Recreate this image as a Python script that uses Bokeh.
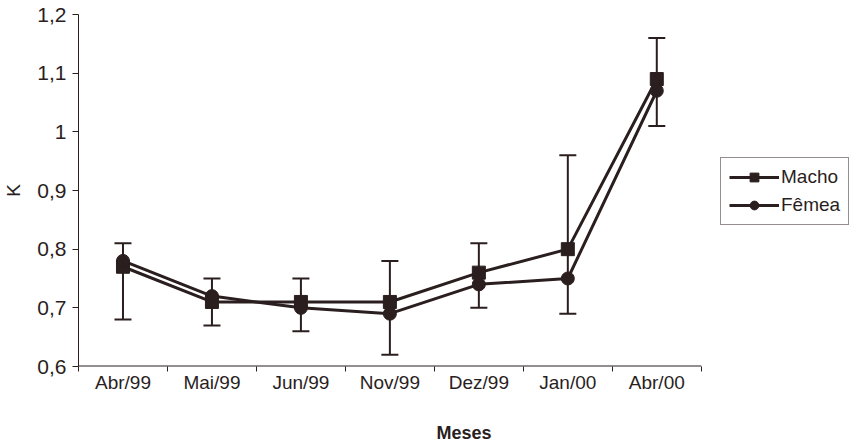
from bokeh.plotting import figure
from bokeh.models import (Range1d, FixedTicker, Whisker, ColumnDataSource,
                          Legend, LegendItem, TeeHead)
from bokeh.embed import file_html
from bokeh.resources import INLINE

months = ["Abr/99", "Mai/99", "Jun/99", "Nov/99", "Dez/99", "Jan/00", "Abr/00"]
macho = [0.77, 0.71, 0.71, 0.71, 0.76, 0.80, 1.09]
femea = [0.78, 0.72, 0.70, 0.69, 0.74, 0.75, 1.07]
err_low = [0.68, 0.67, 0.66, 0.62, 0.70, 0.69, 1.01]
err_high = [0.81, 0.75, 0.75, 0.78, 0.81, 0.96, 1.16]
y_ticks = [0.6, 0.7, 0.8, 0.9, 1.0, 1.1, 1.2]
y_tick_labels = ["0,6", "0,7", "0,8", "0,9", "1", "1,1", "1,2"]

INK = "#2a1e1e"
FONT = "Liberation Sans"

W, H = 849, 445
LEFT, TOP, BOTTOM = 74, 14, 78
AXIS_W = 626                      # pixel length of the category axis
frame_w = W - LEFT

n = len(months)
xc = [i + 0.5 for i in range(n)]
src = ColumnDataSource(dict(x=xc, macho=macho, femea=femea,
                            low=err_low, high=err_high))

p = figure(width=W, height=H, output_backend="svg", toolbar_location=None,
           x_range=Range1d(0, n * frame_w / AXIS_W),
           y_range=Range1d(y_ticks[0], y_ticks[-1]),
           min_border_left=LEFT, min_border_right=0, min_border_top=TOP,
           min_border_bottom=BOTTOM)
p.outline_line_color = None
p.xgrid.visible = False
p.ygrid.visible = False
p.background_fill_color = "white"
p.border_fill_color = "white"

# y axis
p.yaxis.ticker = FixedTicker(ticks=y_ticks)
p.yaxis.major_label_overrides = {t: l for t, l in zip(y_ticks, y_tick_labels)}
p.yaxis.major_tick_out = 6
p.yaxis.major_tick_in = 0
p.yaxis.minor_tick_out = 0
p.yaxis.minor_tick_in = 0
p.yaxis.major_label_standoff = 6
p.yaxis.major_label_text_font = FONT
p.yaxis.major_label_text_font_size = "21px"
p.yaxis.major_label_text_color = INK
p.yaxis.axis_label = "K"
p.yaxis.axis_label_text_font = FONT
p.yaxis.axis_label_text_font_style = "normal"
p.yaxis.axis_label_text_font_size = "19px"
p.yaxis.axis_label_text_color = INK
p.yaxis.axis_label_standoff = 10
p.yaxis.axis_line_color = INK
p.yaxis.major_tick_line_color = INK

# x axis: labels at category centres, tick marks at category boundaries
p.xaxis.ticker = FixedTicker(ticks=xc, minor_ticks=list(range(n + 1)))
p.xaxis.major_label_overrides = {v: m for v, m in zip(xc, months)}
p.xaxis.major_tick_out = 0
p.xaxis.major_tick_in = 0
p.xaxis.minor_tick_out = 5
p.xaxis.minor_tick_in = 0
p.xaxis.minor_tick_line_color = INK
p.xaxis.axis_line_color = None
p.xaxis.major_label_standoff = 0
p.xaxis.major_label_text_font = FONT
p.xaxis.major_label_text_font_size = "19px"
p.xaxis.major_label_text_color = INK
p.xaxis.axis_label = "Meses"
p.xaxis.axis_label_text_font = FONT
p.xaxis.axis_label_text_font_style = "bold"
p.xaxis.axis_label_text_font_size = "18px"
p.xaxis.axis_label_text_color = INK
p.xaxis.axis_label_standoff = 27

# category axis baseline (only as long as the categories)
p.segment(x0=[0], y0=[y_ticks[0]], x1=[n], y1=[y_ticks[0]],
          line_color=INK, line_width=2)

l_m = p.line("x", "macho", source=src, line_color=INK, line_width=3)
l_f = p.line("x", "femea", source=src, line_color=INK, line_width=3)
s_m = p.scatter("x", "macho", source=src, marker="square", size=13,
                fill_color=INK, line_color=INK)
s_f = p.scatter("x", "femea", source=src, marker="circle", size=13,
                fill_color=INK, line_color=INK)

wh = Whisker(base="x", lower="low", upper="high", source=src,
             line_color=INK, line_width=2,
             upper_head=TeeHead(size=17, line_color=INK, line_width=2),
             lower_head=TeeHead(size=17, line_color=INK, line_width=2))
p.add_layout(wh)

legend = Legend(items=[LegendItem(label="Macho", renderers=[l_m, s_m]),
                       LegendItem(label="Fêmea", renderers=[l_f, s_f])],
                location=(642, 141), margin=0, padding=8, spacing=6,
                glyph_width=50, glyph_height=22, label_height=22,
                label_standoff=2,
                label_text_font=FONT, label_text_font_size="19px",
                label_text_color=INK,
                border_line_color=INK, border_line_width=1,
                background_fill_color="white", background_fill_alpha=1)
p.add_layout(legend)

open("out.html", "w").write(file_html(p, INLINE))
